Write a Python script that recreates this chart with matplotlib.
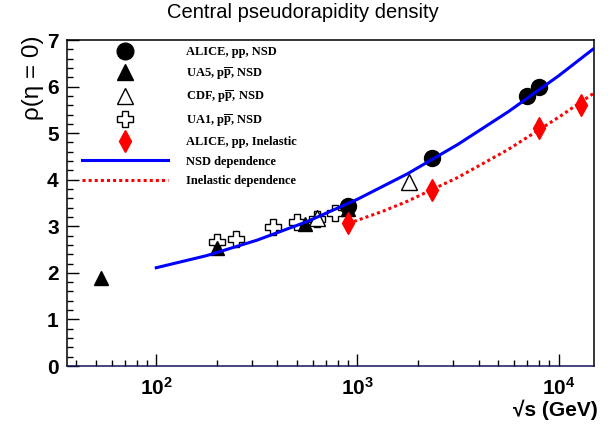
import numpy as np
import matplotlib
matplotlib.use('Agg')
import matplotlib.pyplot as plt
from matplotlib.lines import Line2D
from matplotlib.ticker import AutoMinorLocator, LogLocator, NullFormatter, FixedLocator

plt.rcParams['mathtext.fontset'] = 'custom'
plt.rcParams['mathtext.rm'] = 'Liberation Serif:bold'
plt.rcParams['mathtext.bf'] = 'Liberation Sans:bold'

# ALICE pp NSD
alice_nsd_e = [900, 2360, 7000, 8000]
alice_nsd_rho = [3.44, 4.46, 5.80, 6.00]

# UA5 ppbar NSD
ua5_e = [53, 200, 546, 900]
ua5_rho = [1.90, 2.53, 3.05, 3.38]

# CDF ppbar NSD
cdf_e = [630, 1800]
cdf_rho = [3.17, 3.95]

# UA1 ppbar NSD
ua1_e = [200, 250, 380, 500, 630, 770]
ua1_rho = [2.67, 2.72, 2.99, 3.10, 3.15, 3.29]

# ALICE pp inelastic
alice_inel_e = [900, 2360, 8000, 13000]
alice_inel_rho = [3.06, 3.78, 5.10, 5.60]

# fitted dependences
nsd_fit_e = [100, 178, 316, 562, 1000, 1778, 3162, 5623, 10000, 14800]
nsd_fit_rho = [2.11, 2.37, 2.70, 3.10, 3.58, 4.13, 4.76, 5.46, 6.23, 6.80]
inel_fit_e = [900, 1334, 1778, 3162, 5623, 10000, 15000]
inel_fit_rho = [3.06, 3.32, 3.54, 4.05, 4.65, 5.34, 5.86]

fig = plt.figure(figsize=(6.08, 4.29), dpi=100)
ax = fig.add_axes([67 / 608, 1 - 366 / 429, (594 - 67) / 608, (366 - 40) / 429])

ax.plot(ua1_e, ua1_rho, ls='none', marker='P', ms=12, mfc='white', mec='black', mew=1)
ax.plot(cdf_e, cdf_rho, ls='none', marker='^', ms=11, mfc='white', mec='black', mew=1)
ax.plot(ua5_e, ua5_rho, ls='none', marker='^', ms=10, color='black')
ax.plot(alice_nsd_e, alice_nsd_rho, ls='none', marker='o', ms=11.5, color='black')
ax.plot(alice_inel_e, alice_inel_rho, ls='none', marker='d', ms=11, color='red', mec='red')
ax.plot(nsd_fit_e, nsd_fit_rho, color='blue', lw=2.2)
ax.plot(inel_fit_e, inel_fit_rho, color='red', lw=2.2, ls=(0, (1, 1)), dash_capstyle='butt')

ax.set_xscale('log')
ax.set_xlim(36, 15000)
ax.set_ylim(0, 7)

ax.xaxis.set_major_locator(FixedLocator([1e2, 1e3, 1e4]))
ax.set_xticklabels([r'$\mathbf{10^{2}}$', r'$\mathbf{10^{3}}$', r'$\mathbf{10^{4}}$'], fontsize=15)
ax.xaxis.set_minor_locator(LogLocator(base=10, subs=np.arange(2, 10)))
ax.xaxis.set_minor_formatter(NullFormatter())
ax.yaxis.set_major_locator(FixedLocator(range(8)))
ax.yaxis.set_minor_locator(AutoMinorLocator(5))
for lab in ax.get_yticklabels():
    lab.set_fontfamily('Liberation Sans')
    lab.set_fontweight('bold')
    lab.set_fontsize(15)

ax.tick_params(which='both', direction='in', top=False, right=False, width=1)
ax.tick_params(which='major', length=8.5)
ax.tick_params(which='minor', length=4.5)
ax.tick_params(axis='y', pad=6)
ax.tick_params(axis='x', pad=8)

for sp in ax.spines.values():
    sp.set_linewidth(1.1)
ax.spines['bottom'].set_color('#14145a')

fig.text(303 / 608, 1 - 12 / 429, 'Central pseudorapidity density', ha='center', va='center',
         fontsize=14.5, family='Liberation Sans')
fig.text(33 / 608, 1 - 35 / 429, 'ρ(η = 0)', rotation=90, ha='center', va='top',
         fontsize=17.5, family=['Liberation Sans', 'DejaVu Sans'])
fig.text(598 / 608, 1 - 410 / 429, '√s (GeV)', ha='right', va='center',
         fontsize=15, fontweight='bold', family=['Liberation Sans', 'DejaVu Sans'])

handles = [
    Line2D([], [], ls='none', marker='o', ms=12, color='black'),
    Line2D([], [], ls='none', marker='^', ms=11, color='black'),
    Line2D([], [], ls='none', marker='^', ms=12, mfc='white', mec='black', mew=1),
    Line2D([], [], ls='none', marker='P', ms=12, mfc='white', mec='black', mew=1),
    Line2D([], [], ls='none', marker='d', ms=11, color='red'),
    Line2D([], [], color='blue', lw=2.2),
    Line2D([], [], color='red', lw=2.2, ls=(0, (1, 1)), dash_capstyle='butt'),
]
labels = [
    'ALICE, pp, NSD',
    r'UA5, p$\overline{\mathrm{p}}$, NSD',
    r'CDF, p$\overline{\mathrm{p}}$, NSD',
    r'UA1, p$\overline{\mathrm{p}}$, NSD',
    'ALICE, pp, Inelastic',
    'NSD dependence',
    'Inelastic dependence',
]
leg = fig.legend(handles, labels, loc='upper left', bbox_to_anchor=(82 / 608, 1 - 46 / 429),
                 frameon=False, borderpad=0, borderaxespad=0, handlelength=6.9,
                 handletextpad=1.4, labelspacing=0.6,
                 prop={'family': 'Liberation Serif', 'weight': 'bold', 'size': 9})

fig.savefig('out.png', dpi=100)
